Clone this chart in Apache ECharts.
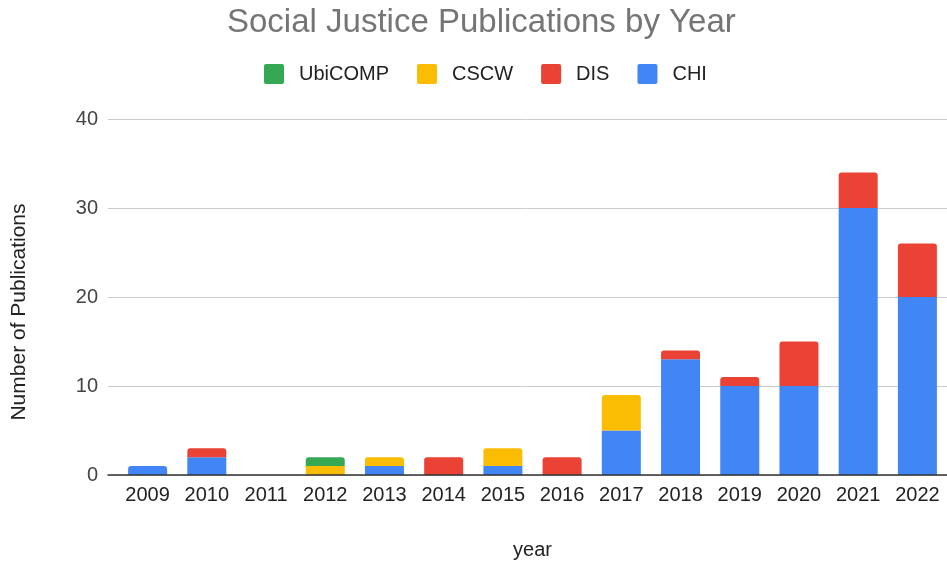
<!DOCTYPE html>
<html><head><meta charset="utf-8">
<script src="https://cdn.jsdelivr.net/npm/echarts@6/dist/echarts.min.js"></script>
<style>html,body{margin:0;padding:0;background:#fff}#c{width:947px;height:562px}</style>
</head><body><div id="c"></div>
<script>
const years = ['2009','2010','2011','2012','2013','2014','2015','2016','2017','2018','2019','2020','2021','2022'];
const chi     = [1,2,0,0,1,0,1,0,5,13,10,10,30,20];
const dis     = [0,1,0,0,0,2,0,2,0,1,1,5,4,6];
const cscw    = [0,0,0,1,1,0,2,0,4,0,0,0,0,0];
const ubicomp = [0,0,0,1,0,0,0,0,0,0,0,0,0,0];
const yTicks = [0,10,20,30,40];

const font = '"Liberation Sans", Arial, sans-serif';
const stackOrder = [chi, dis, cscw, ubicomp];
function topIndex(i) {
  let t = -1;
  stackOrder.forEach((arr, k) => { if (arr[i] > 0) t = k; });
  return t;
}
const chart = echarts.init(document.getElementById('c'));
const mk = (name, k, color) => ({
  name, type:'bar', stack:'t', xAxisIndex:1, yAxisIndex:1, barWidth:39,
  itemStyle:{color},
  data: stackOrder[k].map((v, i) => v === 0 ? null :
    (topIndex(i) === k ? {value:v, itemStyle:{borderRadius:[3,3,0,0]}} : v))
});
chart.setOption({
  animation:false,
  title:{text:'Social Justice Publications by Year', left:227, top:6, padding:0,
    textStyle:{fontFamily:font, fontSize:33, fontWeight:'normal', color:'#757575'}},
  legend:{top:64, left:264, padding:0, itemWidth:20, itemHeight:20, itemGap:28,
    icon:'path://M2,0H18Q20,0 20,2V18Q20,20 18,20H2Q0,20 0,18V2Q0,0 2,0Z',
    textStyle:{fontFamily:font, fontSize:20, color:'#222', padding:[0,0,0,10]},
    data:['UbiCOMP','CSCW','DIS','CHI']},
  grid:[
    {left:108, right:0, top:119, bottom:87, containLabel:false, outerBoundsMode:'none'},
    {left:118, right:0, top:119, bottom:87, containLabel:false, outerBoundsMode:'none'}
  ],
  xAxis:[
    {type:'category', gridIndex:0, data:years, axisLabel:{show:false}, axisTick:{show:false},
      axisLine:{lineStyle:{color:'#333', width:1.5}}, z:5},
    {type:'category', gridIndex:1, data:years, axisTick:{show:false}, axisLine:{show:false},
      axisLabel:{fontFamily:font, fontSize:20, color:'#222', margin:10},
      name:'year', nameLocation:'middle', nameGap:65,
      nameTextStyle:{fontFamily:font, fontSize:20, color:'#222'}}
  ],
  yAxis:[
    {type:'value', gridIndex:0, min:yTicks[0], max:yTicks[yTicks.length-1], interval:10,
      axisLabel:{fontFamily:font, fontSize:20, color:'#444', margin:10},
      splitLine:{lineStyle:{color:'#ccc', width:1}}, axisLine:{show:false}, axisTick:{show:false},
      name:'Number of Publications', nameLocation:'middle', nameGap:78,
      nameTextStyle:{fontFamily:font, fontSize:21, color:'#222', padding:[0,30,0,0]}},
    {type:'value', gridIndex:1, min:yTicks[0], max:yTicks[yTicks.length-1], interval:10,
      show:false, splitLine:{show:false}}
  ],
  series:[
    mk('CHI', 0, '#4285f4'),
    mk('DIS', 1, '#ea4335'),
    mk('CSCW', 2, '#fbbc04'),
    mk('UbiCOMP', 3, '#34a853')
  ]
});
</script></body></html>
